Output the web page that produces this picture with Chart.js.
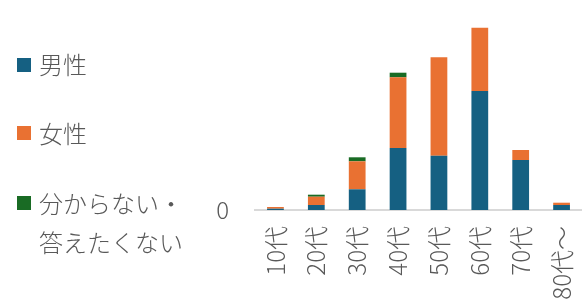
<!DOCTYPE html>
<html>
<head>
<meta charset="utf-8">
<script src="https://cdn.jsdelivr.net/npm/chart.js@4/dist/chart.umd.min.js"></script>
<style>
  html,body{margin:0;padding:0;background:#fff;}
  #wrap{position:relative;width:582px;height:304px;overflow:hidden;font-family:"Noto Sans CJK JP","Noto Sans",sans-serif;color:#595959;}
  #c{position:absolute;left:0;top:0;}
  .lg{position:absolute;font-size:24px;font-weight:300;line-height:39px;white-space:nowrap;}
  .sq{position:absolute;width:14px;height:14px;}
</style>
</head>
<body>
<div id="wrap">
  <canvas id="c" width="582" height="304"></canvas>
  <div id="legend"></div>
</div>
<script>
const categories = ["10代","20代","30代","40代","50代","60代","70代","80代～"];
const seriesNames = ["男性","女性","分からない・\n答えたくない"];
const male   = [1.3, 5.0, 20.7, 62.0, 54.3, 119.0, 50.0, 5.0];
const female = [1.7, 8.3, 28.0, 70.7, 98.4, 63.3, 10.0, 2.3];
const other  = [0.0, 2.0, 4.0, 4.6, 0.0, 0.0, 0.0, 0.0];
const colors = ["#156082","#E97132","#196B24"];

// HTML legend (wrapping text)
const legendPos = [[63],[132],[202,241]];
const sqPos = [65,133,203];
const lg = document.getElementById('legend');
seriesNames.forEach((name,i)=>{
  const sq = document.createElement('div');
  sq.className='sq';
  sq.style.left='17px';
  sq.style.top=(sqPos[i]-7)+'px';
  sq.style.background=colors[i];
  lg.appendChild(sq);
  name.split('\n').forEach((line,j)=>{
    const t=document.createElement('div');
    t.className='lg';
    t.style.left='39px';
    t.style.top=(legendPos[i][j]-19.5)+'px';
    t.textContent=line;
    lg.appendChild(t);
  });
});

const font = {family:'"Noto Sans CJK JP","Noto Sans",sans-serif', size:24, weight:300};
function noPad(s){s.paddingTop=0;s.paddingBottom=0;s.paddingLeft=0;s.paddingRight=0;}
new Chart(document.getElementById('c'), {
  type:'bar',
  data:{
    labels:categories,
    datasets:[male,female,other].map((d,i)=>({
      label:seriesNames[i],
      data:d,
      backgroundColor:colors[i],
      borderWidth:0,
      barPercentage:0.82,
      categoryPercentage:0.5
    }))
  },
  options:{
    responsive:false,
    animation:false,
    layout:{padding:{left:0,right:0,top:0,bottom:0}},
    plugins:{legend:{display:false},tooltip:{enabled:false}},
    scales:{
      x:{
        stacked:true,
        grid:{display:false,drawTicks:false},
        border:{display:true,color:'#d9d9d9',width:2},
        ticks:{color:'#595959',font:font,minRotation:90,maxRotation:90,padding:16,autoSkip:false},
        afterFit:s=>{s.height=94;noPad(s);}
      },
      y:{
        stacked:true,
        min:0,max:210,
        grid:{display:false,drawTicks:false},
        border:{display:false},
        ticks:{color:'#595959',font:font,padding:26,stepSize:1000,callback:v=>v===0?'0':''},
        afterFit:s=>{s.width=255;noPad(s);}
      }
    }
  }
});
</script>
</body>
</html>
